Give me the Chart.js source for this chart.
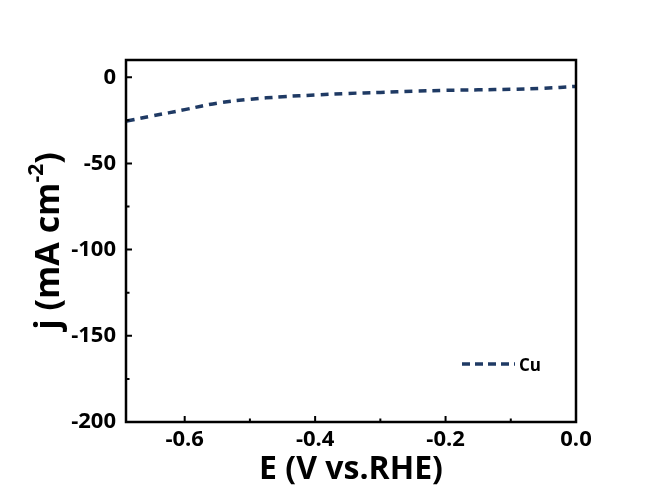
<!DOCTYPE html>
<html>
<head>
<meta charset="utf-8">
<script src="https://cdn.jsdelivr.net/npm/chart.js@4.4.1/dist/chart.umd.min.js"></script>
<style>
  html, body { margin: 0; padding: 0; background: #ffffff; }
  #wrap { width: 656px; height: 497px; }
</style>
</head>
<body>
<div id="wrap"><canvas id="lsv"></canvas></div>
<script>
// data
var potential = [-0.689, -0.65, -0.6, -0.55, -0.5, -0.45, -0.4, -0.35, -0.3, -0.25, -0.2, -0.15, -0.1, -0.05, 0.0];
var currentCu = [-25.4, -22.5, -18.8, -15.0, -12.8, -11.3, -10.3, -9.4, -8.8, -8.1, -7.6, -7.3, -7.0, -6.4, -5.3];
var seriesName = "Cu";
var xTicks = [-0.6, -0.4, -0.2, 0.0];
var xMinorTicks = [-0.5, -0.3, -0.1];
var yTicks = [0, -50, -100, -150, -200];
var yMinorTicks = [-25, -75, -125, -175];

var lineColor = "#1f3a64";
var fontFam = "'Open Sans', 'DejaVu Sans', sans-serif";

var points = potential.map(function(x, i) { return { x: x, y: currentCu[i] }; });

// frame, inward ticks, legend and y title
var decor = {
    id: "decor",
    afterDraw: function(chart) {
        var c = chart.ctx, a = chart.chartArea;
        var xs = chart.scales.x, ys = chart.scales.y;
        c.save();
        c.strokeStyle = "#000";
        c.lineWidth = 2.5;
        c.strokeRect(a.left, a.top, a.right - a.left, a.bottom - a.top);

        c.lineWidth = 2;
        c.beginPath();
        xTicks.forEach(function(v) {
            var px = xs.getPixelForValue(v);
            c.moveTo(px, a.bottom); c.lineTo(px, a.bottom - 6);
        });
        xMinorTicks.forEach(function(v) {
            var px = xs.getPixelForValue(v);
            c.moveTo(px, a.bottom); c.lineTo(px, a.bottom - 3.5);
        });
        yTicks.forEach(function(v) {
            var py = ys.getPixelForValue(v);
            c.moveTo(a.left, py); c.lineTo(a.left + 6, py);
        });
        yMinorTicks.forEach(function(v) {
            var py = ys.getPixelForValue(v);
            c.moveTo(a.left, py); c.lineTo(a.left + 3.5, py);
        });
        c.stroke();

        // legend inside plot, lower right
        var ds = chart.data.datasets[0];
        var lx = a.right - 114, ly = a.bottom - 58;
        c.strokeStyle = ds.borderColor;
        c.lineWidth = 3.5;
        c.setLineDash([8, 5]);
        c.beginPath();
        c.moveTo(lx, ly); c.lineTo(lx + 53, ly);
        c.stroke();
        c.setLineDash([]);
        c.fillStyle = "#000";
        c.font = "bold 17px " + fontFam;
        c.textBaseline = "middle";
        c.fillText(ds.label, lx + 57, ly + 2);

        // y title with superscript
        c.translate(49, (a.top + a.bottom) / 2);
        c.rotate(-Math.PI / 2);
        var big = "bold 34px " + fontFam, small = "bold 21px " + fontFam;
        c.font = big; var w1 = c.measureText("j (mA cm").width, w3 = c.measureText(")").width;
        c.font = small; var w2 = c.measureText("-2").width;
        var x0 = -(w1 + w2 + w3) / 2;
        c.textBaseline = "middle";
        c.font = big; c.fillText("j (mA cm", x0, 0);
        c.font = small; c.fillText("-2", x0 + w1, -12);
        c.font = big; c.fillText(")", x0 + w1 + w2, 0);
        c.restore();
    }
};

new Chart(document.getElementById("lsv"), {
    type: "line",
    data: {
        datasets: [{
            label: seriesName,
            data: points,
            borderColor: lineColor,
            backgroundColor: lineColor,
            borderWidth: 3.5,
            borderDash: [8, 6],
            pointRadius: 0,
            tension: 0.4,
            fill: false
        }]
    },
    options: {
        responsive: true,
        maintainAspectRatio: false,
        animation: false,
        layout: { padding: { left: 0, top: 60, right: 80, bottom: 0 } },
        plugins: { legend: { display: false }, tooltip: { enabled: false } },
        scales: {
            x: {
                type: "linear",
                min: -0.69,
                max: 0,
                afterFit: function(s) { s.height = 75; },
                afterBuildTicks: function(s) { s.ticks = xTicks.map(function(v) { return { value: v }; }); },
                grid: { display: false, drawTicks: false },
                border: { display: false },
                ticks: {
                    padding: 5,
                    color: "#000",
                    font: { family: fontFam, size: 22, weight: "bold" },
                    callback: function(v) { return v.toFixed(1); }
                },
                title: {
                    display: true,
                    text: "E (V vs.RHE)",
                    color: "#000",
                    font: { family: fontFam, size: 32, weight: "bold" },
                    padding: { top: 0, bottom: 8 }
                }
            },
            y: {
                type: "linear",
                min: -200,
                max: 10,
                afterFit: function(s) { s.width = 126; },
                afterBuildTicks: function(s) { s.ticks = yTicks.map(function(v) { return { value: v }; }); },
                grid: { display: false, drawTicks: false },
                border: { display: false },
                ticks: {
                    padding: 10,
                    color: "#000",
                    font: { family: fontFam, size: 22, weight: "bold" }
                }
            }
        }
    },
    plugins: [decor]
});
</script>
</body>
</html>
